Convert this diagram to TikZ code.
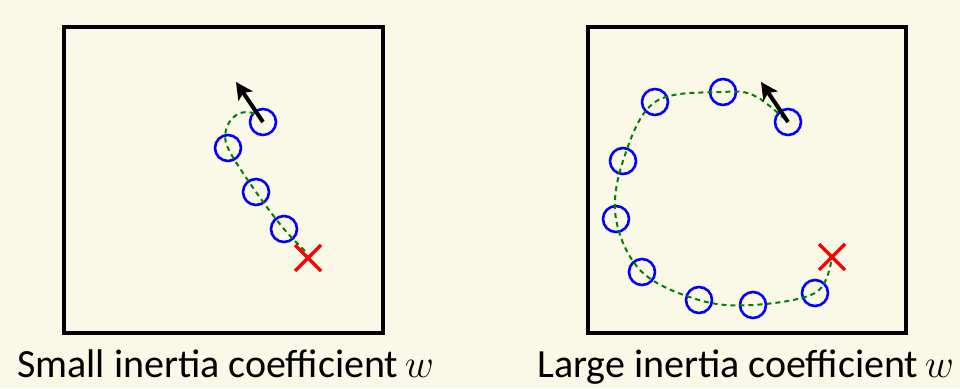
\RequirePackage{fix-cm}
\documentclass[tikz,border=0pt]{standalone}
\usepackage{fontspec}
\setmainfont{Carlito}
\usetikzlibrary{arrows.meta,calc}
\definecolor{bgcream}{RGB}{250,248,230}
\definecolor{pgreen}{RGB}{0,128,0}
\tikzset{
  frame/.style={draw=black, line width=4pt},
  particle/.style={circle, draw=blue, line width=2.6pt, minimum size=26pt, inner sep=0pt},
  trail/.style={draw=pgreen, line width=2pt, dash pattern=on 5pt off 4pt},
  velocity/.style={draw=black, line width=4pt, -{Stealth[length=17pt,width=17pt,inset=4pt]}},
  bestmark/.style={draw=red, line width=3.5pt},
  caption/.style={font=\fontsize{40}{44}\selectfont, anchor=base west, inner sep=0pt}
}
\begin{document}
\begin{tikzpicture}[x=1pt,y=-1pt]
\fill[bgcream] (0,0) rectangle (960,388);
\useasboundingbox (0,0) rectangle (960,388);

% frames
\draw[frame] (64,27) rectangle (383,333);
\draw[frame] (588,27) rectangle (906,333);

% ---------- left: small inertia ----------
\node[particle] (l1) at (263,122) {};
\node[particle] (l2) at (228,148) {};
\node[particle] (l3) at (256,192) {};
\node[particle] (l4) at (284,229) {};
\coordinate (lx) at (308,258);
\coordinate (lstart) at (305,251);
\coordinate (la) at (227,127);
\coordinate (lb) at (238,114);
\coordinate (lc) at (253,113);
\coordinate (ltip) at (236,82);
\draw[trail] plot[smooth, tension=0.6] coordinates {(lstart) (l4.center) (l3.center) (l2.center) (la) (lb) (lc) (l1.center)};
\draw[bestmark] ($(lx)+(-13,-13)$) -- ($(lx)+(13,13)$);
\draw[bestmark] ($(lx)+(-13,13)$) -- ($(lx)+(13,-13)$);
\draw[velocity] (l1.center) -- (ltip);

% ---------- right: large inertia ----------
\node[particle] (r1) at (788,122) {};
\node[particle] (r2) at (723,92) {};
\node[particle] (r3) at (655,102) {};
\node[particle] (r4) at (623,161) {};
\node[particle] (r5) at (616,219) {};
\node[particle] (r6) at (642,272) {};
\node[particle] (r7) at (699,300) {};
\node[particle] (r8) at (753,305) {};
\node[particle] (r9) at (815,293) {};
\coordinate (rx) at (832,257);
\coordinate (rstart) at (831,262);
\coordinate (ra) at (755,96);
\coordinate (rtip) at (761,82);
\draw[trail] plot[smooth, tension=0.6] coordinates {(rstart) (r9.center) (r8.center) (r7.center) (r6.center) (r5.center) (r4.center) (r3.center) (r2.center) (ra) (r1.center)};
\draw[bestmark] ($(rx)+(-13,-13)$) -- ($(rx)+(13,13)$);
\draw[bestmark] ($(rx)+(-13,13)$) -- ($(rx)+(13,-13)$);
\draw[velocity] (r1.center) -- (rtip);

% captions
\node[caption] (capl) at (17,377) {Small inertia coefficient\,$w$};
\node[caption] (capr) at (537,377) {Large inertia coefficient\,$w$};
\end{tikzpicture}
\end{document}
